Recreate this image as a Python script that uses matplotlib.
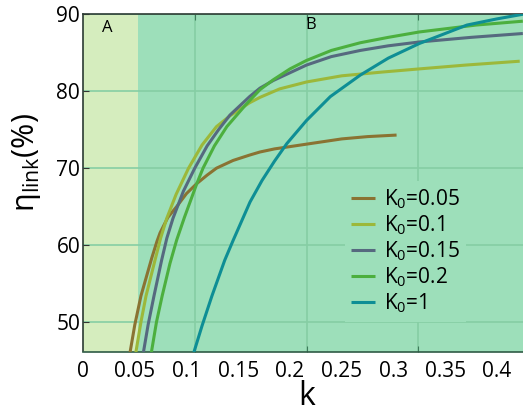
import matplotlib
matplotlib.use('Agg')
import matplotlib.pyplot as plt
from matplotlib.ticker import FixedLocator, NullFormatter, FixedFormatter

plt.rcParams['font.family'] = ['Open Sans', 'DejaVu Sans']
plt.rcParams['mathtext.default'] = 'regular'

# efficiency curves: k values and eta_link (%)
k_005 = [0.0454, 0.050, 0.056, 0.0664, 0.0715, 0.0745, 0.082, 0.0905, 0.100, 0.110,
         0.120, 0.129, 0.145, 0.161, 0.171, 0.185, 0.200, 0.225, 0.250, 0.275, 0.303]
eta_005 = [46.0, 49.6, 53.4, 58.3, 60.5, 61.6, 63.6, 65.0, 66.7, 68.0,
           69.1, 70.0, 71.0, 71.7, 72.1, 72.5, 72.8, 73.3, 73.8, 74.1, 74.3]

k_01 = [0.051, 0.056, 0.0609, 0.0696, 0.075, 0.081, 0.090, 0.102, 0.115, 0.129,
        0.142, 0.161, 0.171, 0.190, 0.216, 0.250, 0.290, 0.325, 0.370, 0.422]
eta_01 = [46.0, 50.0, 53.4, 58.05, 60.9, 63.5, 66.6, 70.0, 73.0, 75.4,
          76.8, 78.5, 79.2, 80.3, 81.2, 82.0, 82.5, 82.9, 83.4, 83.9]

k_015 = [0.0583, 0.063, 0.0686, 0.076, 0.081, 0.087, 0.097, 0.108, 0.120, 0.131,
         0.142, 0.161, 0.171, 0.184, 0.200, 0.216, 0.240, 0.268, 0.295, 0.325,
         0.375, 0.425]
eta_015 = [46.0, 49.7, 53.4, 58.05, 60.9, 63.5, 67.0, 70.0, 72.9, 75.0,
           76.9, 79.3, 80.4, 81.4, 82.4, 83.4, 84.5, 85.3, 85.9, 86.4,
           87.0, 87.5]

k_02 = [0.066, 0.071, 0.0765, 0.084, 0.0905, 0.098, 0.110, 0.116, 0.127, 0.139,
        0.157, 0.171, 0.184, 0.200, 0.216, 0.240, 0.268, 0.295, 0.325, 0.380, 0.425]
eta_02 = [46.0, 50.0, 53.4, 57.6, 60.65, 63.6, 68.0, 70.0, 72.9, 75.4,
          78.2, 80.2, 81.5, 82.9, 84.0, 85.3, 86.3, 87.0, 87.7, 88.6, 89.1]

k_1 = [0.107, 0.115, 0.1246, 0.137, 0.1452, 0.1614, 0.173, 0.185, 0.197, 0.216,
       0.239, 0.268, 0.295, 0.325, 0.371, 0.400, 0.425]
eta_1 = [46.0, 49.5, 53.4, 58.05, 60.65, 65.6, 68.4, 70.9, 73.2, 76.2,
         79.3, 82.1, 84.3, 86.2, 88.6, 89.4, 90.0]

series = [
    (k_005, eta_005, 'K$_0$=0.05', '#8a7332'),
    (k_01, eta_01, 'K$_0$=0.1', '#9cb83a'),
    (k_015, eta_015, 'K$_0$=0.15', '#56697f'),
    (k_02, eta_02, 'K$_0$=0.2', '#4caf3e'),
    (k_1, eta_1, 'K$_0$=1', '#0e8e95'),
]

xtick_vals = [0, 0.05, 0.1, 0.15, 0.2, 0.25, 0.3, 0.35, 0.4]
xtick_labels = ['0', '0.05', '0.1', '0.15', '0.2', '0.25', '0.3', '0.35', '0.4']
xgrid_vals = [0.108, 0.216, 0.324]
ytick_vals = [50, 60, 70, 80, 90]

bg_B = '#9ddfba'
bg_A = '#d5edbe'
grid_c = '#86cea4'

fig = plt.figure(figsize=(5.23, 4.12), dpi=100)
ax = fig.add_axes([83/523, 60.5/412, 445/523, 338/412])
ax.set_facecolor(bg_B)
ax.axvspan(0, 0.053, color=bg_A, lw=0, zorder=0)

for k, eta, lab, c in series:
    ax.plot(k, eta, color=c, lw=2.2, label=lab, zorder=3,
            solid_joinstyle='round', solid_capstyle='butt')

ax.set_xlim(0, 0.430)
ax.set_ylim(46.17, 90.1)

ax.xaxis.set_major_locator(FixedLocator(xgrid_vals))
ax.xaxis.set_major_formatter(NullFormatter())
ax.xaxis.set_minor_locator(FixedLocator(xtick_vals))
ax.xaxis.set_minor_formatter(FixedFormatter(xtick_labels))
ax.tick_params(axis='x', which='major', direction='in', length=4, top=True,
               color='#3d7a5a')
ax.tick_params(axis='x', which='minor', length=0, labelsize=15, pad=7)
ax.set_yticks(ytick_vals)
ax.tick_params(axis='y', direction='in', length=4, labelsize=15, pad=2,
               color='#333333')
ax.grid(True, which='major', color=grid_c, lw=1.2, zorder=1)

for s in ['left', 'top']:
    ax.spines[s].set_color('#2b3b33')
    ax.spines[s].set_linewidth(1.2)
ax.spines['bottom'].set_color('#2f5b45')
ax.spines['bottom'].set_linewidth(1.2)
ax.spines['right'].set_visible(False)

ax.text(0.023, 88.25, 'A', fontsize=12, ha='center', va='center')
ax.text(0.220, 88.6, 'B', fontsize=12, ha='center', va='center')

ax.set_xlabel('k', fontsize=23)
ax.xaxis.set_label_coords(0.503, -0.085)
ax.set_ylabel('η$_{link}$(%)', fontsize=22)
ax.yaxis.set_label_coords(-0.09, 0.56)

leg = ax.legend(loc='upper left', bbox_to_anchor=(345/523, 1 - 181/412),
                bbox_transform=fig.transFigure, fontsize=15, frameon=True,
                facecolor=bg_B, edgecolor='none', framealpha=1, fancybox=False,
                handlelength=1.15, handletextpad=0.4, labelspacing=0.12,
                borderpad=0.3, borderaxespad=0)

fig.savefig('out.png', dpi=100)
